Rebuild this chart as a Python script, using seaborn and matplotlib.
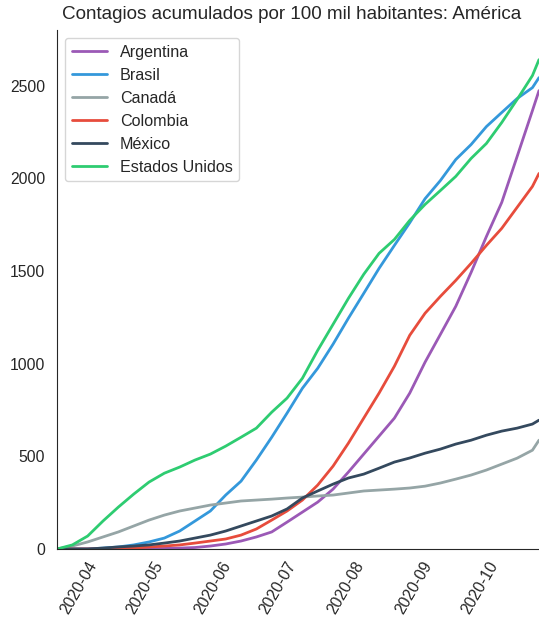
import numpy as np
import pandas as pd
import matplotlib
matplotlib.use("Agg")
import matplotlib.pyplot as plt
import matplotlib.dates as mdates
import seaborn as sns

# ---- data ----
dates = ["2020-03-22", "2020-03-29", "2020-04-05", "2020-04-12", "2020-04-19", "2020-04-26",
         "2020-05-03", "2020-05-10", "2020-05-17", "2020-05-24", "2020-05-31", "2020-06-07",
         "2020-06-14", "2020-06-21", "2020-06-28", "2020-07-05", "2020-07-12", "2020-07-19",
         "2020-07-26", "2020-08-02", "2020-08-09", "2020-08-16", "2020-08-23", "2020-08-30",
         "2020-09-06", "2020-09-13", "2020-09-20", "2020-09-27", "2020-10-04", "2020-10-11",
         "2020-10-18", "2020-10-25", "2020-10-28"]

argentina = [0, 0, 0, 0, 0, 0, 2, 3, 5, 8, 16, 27, 43, 65, 92, 145, 199, 253, 323, 415,
             512, 609, 706, 841, 1008, 1158, 1309, 1492, 1686, 1870, 2117, 2365, 2473]
brasil = [0, 0, 0, 5, 11, 22, 38, 59, 97, 151, 205, 291, 366, 480, 603, 733, 867, 975,
          1105, 1245, 1379, 1514, 1638, 1760, 1890, 1988, 2101, 2182, 2279, 2355, 2430, 2489, 2543]
canada = [0, 16, 38, 65, 92, 124, 156, 183, 205, 221, 237, 248, 259, 264, 269, 275, 280,
          286, 291, 302, 313, 318, 323, 329, 339, 356, 377, 399, 426, 458, 490, 533, 587]
colombia = [0, 0, 0, 1, 3, 5, 11, 16, 22, 32, 43, 54, 75, 108, 156, 205, 264, 345, 447,
            571, 706, 841, 986, 1153, 1272, 1363, 1449, 1541, 1638, 1730, 1843, 1956, 2026]
mexico = [0, 0, 0, 5, 11, 16, 22, 32, 43, 59, 75, 97, 124, 151, 178, 216, 275, 313, 350,
          383, 404, 436, 469, 491, 517, 539, 566, 587, 614, 636, 652, 674, 695]
estados_unidos = [0, 22, 70, 151, 226, 296, 361, 409, 442, 480, 512, 555, 603, 652, 738,
                  814, 921, 1072, 1212, 1352, 1482, 1595, 1670, 1773, 1859, 1934, 2010, 2107,
                  2188, 2301, 2425, 2554, 2640]

countries = ["Argentina", "Brasil", "Canadá", "Colombia", "México", "Estados Unidos"]
series = [argentina, brasil, canada, colombia, mexico, estados_unidos]
colors = ["#9b59b6", "#3498db", "#95a5a6", "#e74c3c", "#34495e", "#2ecc71"]
yticks = [0, 500, 1000, 1500, 2000, 2500]
title = "Contagios acumulados por 100 mil habitantes: América"

df = pd.concat([
    pd.DataFrame({"fecha": pd.to_datetime(dates), "valor": vals, "país": name})
    for name, vals in zip(countries, series)
], ignore_index=True)

# ---- style ----
sns.set_style("white")
plt.rcParams["font.family"] = ["Liberation Sans", "DejaVu Sans"]

fig = plt.figure(figsize=(5.39, 6.25), dpi=100)
ax = fig.add_axes([57 / 539, 76 / 625, 482 / 539, 519 / 625])

sns.lineplot(data=df, x="fecha", y="valor", hue="país", hue_order=countries,
             palette=dict(zip(countries, colors)), linewidth=2, ax=ax)

ax.set_xlim(df["fecha"].min(), df["fecha"].max())
ax.set_ylim(0, 2800)
ax.set_yticks(yticks)
ax.xaxis.set_major_locator(mdates.MonthLocator())
ax.xaxis.set_major_formatter(mdates.DateFormatter("%Y-%m"))
ax.tick_params(axis="both", labelsize=11.3, colors=".15")
ax.tick_params(axis="y", pad=5)
for lab in ax.get_xticklabels():
    lab.set_rotation(60)
ax.set_xlabel("")
ax.set_ylabel("")
ax.set_title(title, fontsize=13.6, color=".15", x=0.487, pad=8)
sns.despine(ax=ax)

leg = ax.legend(loc="upper left", fontsize=11.6, title=None, handlelength=2.2)
for line in leg.get_lines():
    line.set_linewidth(2)

fig.savefig("out.png", dpi=100)
